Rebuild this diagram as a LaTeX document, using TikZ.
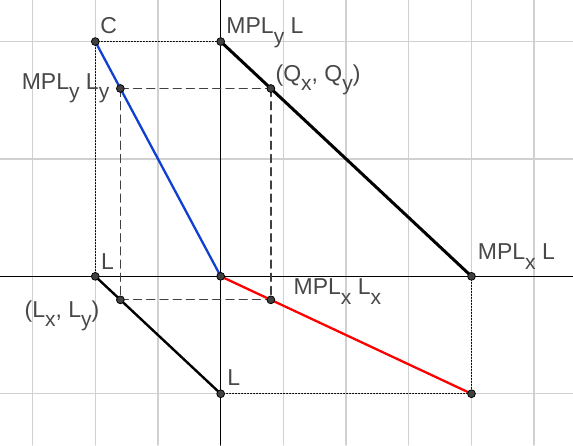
\documentclass[tikz,border=0pt]{standalone}
\usepackage{fontspec}
\setmainfont{Liberation Sans}
\usetikzlibrary{positioning}
\definecolor{ptgray}{RGB}{64,64,64}
\definecolor{txtgray}{RGB}{72,72,72}
\definecolor{gridgray}{RGB}{208,208,208}
\definecolor{lineblue}{RGB}{16,64,208}
\newcommand\lowidx[1]{\raisebox{-4.6pt}{\fontsize{10.5}{12}\selectfont #1}}

\begin{document}
\begin{tikzpicture}[line cap=round,line join=round,x=31.35pt,y=58.7pt,
	pt/.style={circle,draw=black,fill=ptgray,line width=0.4pt,inner sep=0pt,minimum size=3.9pt},
	lbl/.style={text=txtgray,font=\fontsize{11.5}{13}\selectfont,inner sep=1pt},
	helpdash/.style={ptgray,line width=0.65pt,dash pattern=on 4pt off 2.6pt},
	helpdot/.style={black,line width=0.5pt,dash pattern=on 0.5pt off 1pt}]
	\useasboundingbox (-3.520,-1.437) rectangle (5.619,2.354);
	% grille et axes
	\draw[gridgray,line width=0.7pt,xstep=1,ystep=1] (-3.520,-1.437) grid (5.619,2.354);
	\draw[line width=0.5pt] (-3.520,0)--(5.619,0);
	\draw[line width=0.5pt] (0,-1.437)--(0,2.354);
	% sommets
	\coordinate (C) at (-2,2);
	\coordinate (Ay) at (0,2);
	\coordinate (Ey) at (-1.6,1.6);
	\coordinate (Q) at (0.8,1.6);
	\coordinate (O) at (0,0);
	\coordinate (Lc) at (-2,0);
	\coordinate (Bx) at (4,0);
	\coordinate (Lxy) at (-1.6,-0.2);
	\coordinate (Ex) at (0.8,-0.2);
	\coordinate (Lb) at (0,-1);
	\coordinate (Rx) at (4,-1);
	% pointilles
	\draw[helpdot] (C)--(Ay);
	\draw[helpdot] (C)--(Lc);
	\draw[helpdot] (Lb)--(Rx);
	\draw[helpdot] (Bx)--(Rx);
	% tirets
	\draw[helpdash] (Ey)--(Q);
	\draw[helpdash] (Ey)--(Lxy);
	\draw[helpdash] (Lxy)--(Ex);
	\draw[helpdash] (Q)--(Ex);
	% droites
	\draw[lineblue,line width=1.15pt] (C)--(O);
	\draw[black,line width=1.5pt] (Ay)--(Bx);
	\draw[black,line width=1.2pt] (Lc)--(Lb);
	\draw[red,line width=1.15pt] (O)--(Rx);
	% marquages des sommets
	\foreach \p in {C,Ay,Ey,Q,O,Lc,Bx,Lxy,Ex,Lb,Rx}
		\node[pt] (d\p) at (\p) {};
	% etiquettes
	\node[lbl,anchor=base west] (tC) at ([shift={(1.4pt,3.85pt)}]C) {C};
	\node[lbl,anchor=base west] (tAy) at ([shift={(1.7pt,3.85pt)}]Ay) {MPL\lowidx{y} L};
	\node[lbl,anchor=base east] (tEy) at ([shift={(-4.35pt,-0.5pt)}]Ey) {MPL\lowidx{y} L\lowidx{y}};
	\node[lbl,anchor=base west] (tQ) at ([shift={(1.2pt,3.5pt)}]Q) {(Q\lowidx{x}, Q\lowidx{y})};
	\node[lbl,anchor=base west] (tBx) at ([shift={(2pt,8.2pt)}]Bx) {MPL\lowidx{x} L};
	\node[lbl,anchor=base west] (tEx) at ([shift={(10.2pt,2.5pt)}]Ex) {MPL\lowidx{x} L\lowidx{x}};
	\node[lbl,anchor=base west] (tLc) at ([shift={(1.7pt,3.5pt)}]Lc) {L};
	\node[lbl,anchor=base east] (tLxy) at ([shift={(-9.35pt,-8.65pt)}]Lxy) {(L\lowidx{x}, L\lowidx{y})};
	\node[lbl,anchor=base west] (tLb) at ([shift={(2.2pt,4pt)}]Lb) {L};
\end{tikzpicture}
\end{document}
